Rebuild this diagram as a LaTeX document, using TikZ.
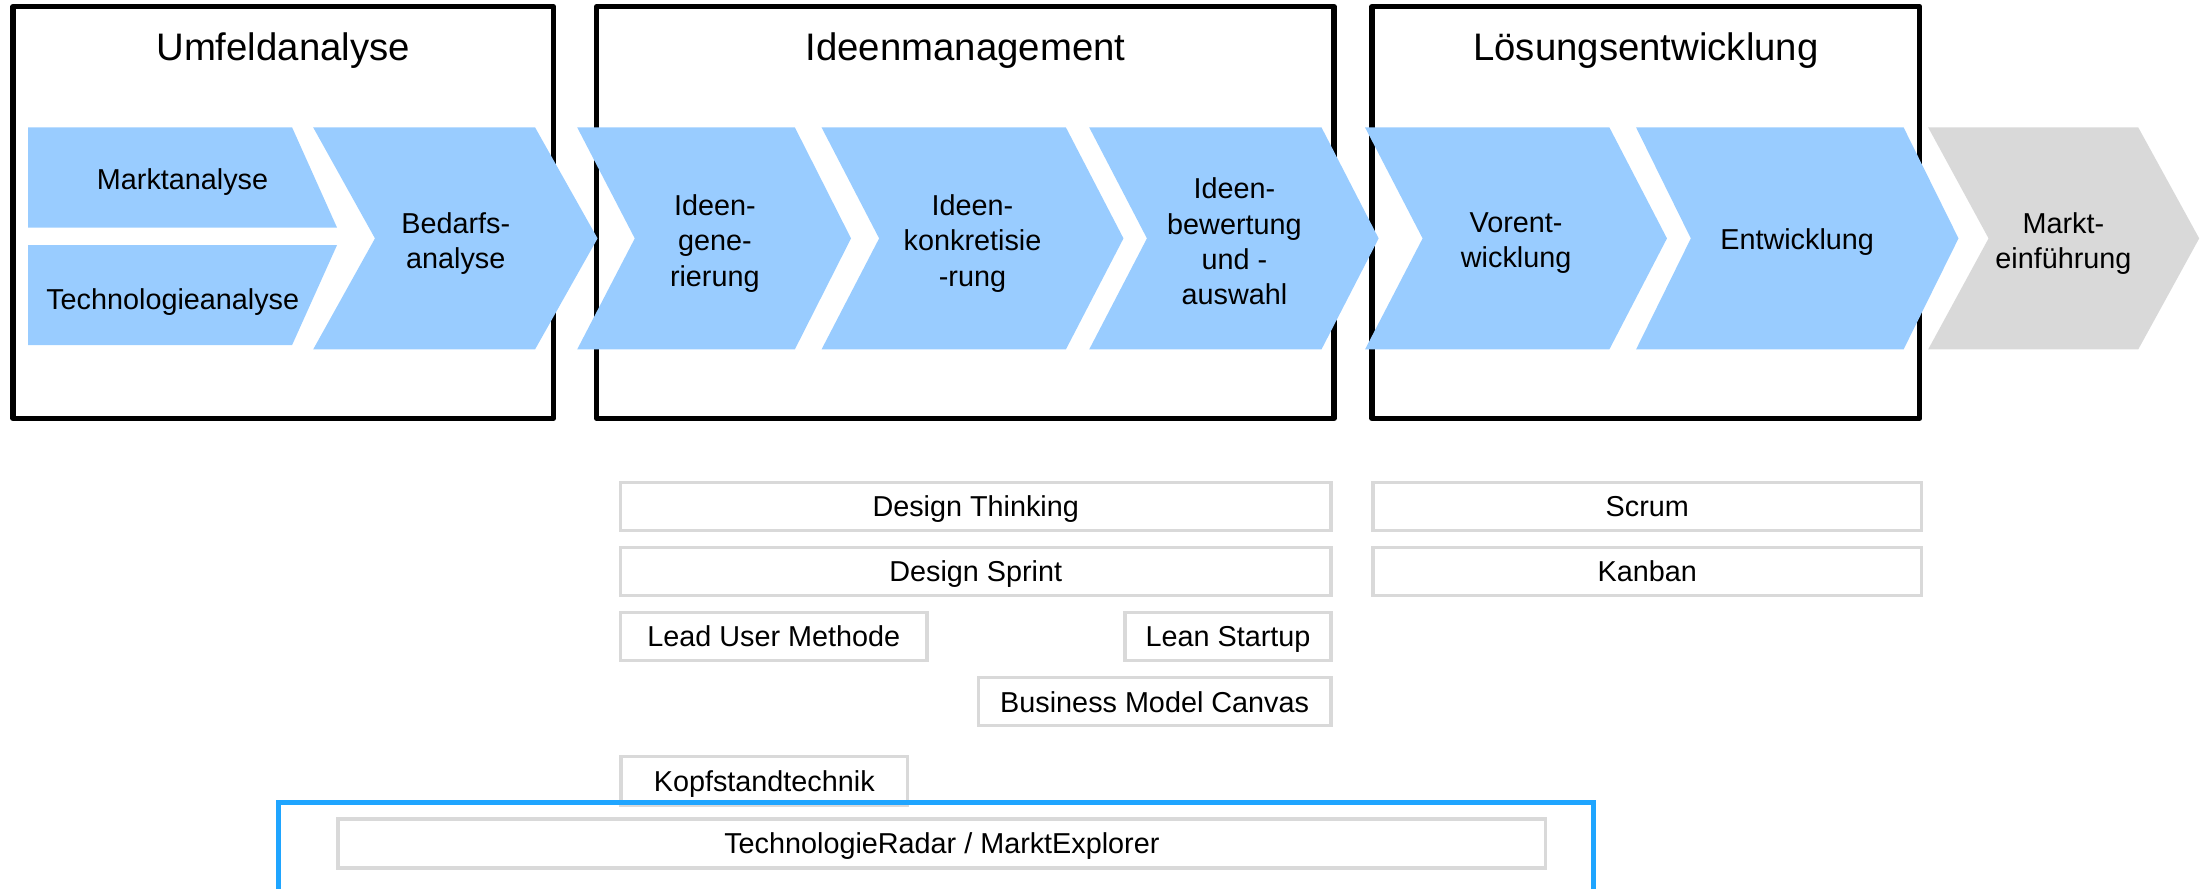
\documentclass[tikz,border=0pt]{standalone}
\usepackage{fontspec}
\setmainfont{Liberation Sans}
\definecolor{chevblue}{HTML}{99CCFF}
\definecolor{chevgray}{HTML}{D9D9D9}
\definecolor{toolgray}{HTML}{D9D9D9}
\definecolor{radarblue}{HTML}{1FA5FF}

% chevron: left x, notch x, upper right x, tip x, top y, bottom y
\newcommand{\chevronpath}[6]{(#1,#5) -- (#3,#5) -- (#4,{(#5+#6)/2}) -- (#3,#6) -- (#1,#6) -- (#2,{(#5+#6)/2}) -- cycle}

\begin{document}
\begin{tikzpicture}[x=1pt,y=-1pt,
  phase/.style={draw=black, line width=3.8pt, line join=round},
  stage/.style={fill=chevblue},
  launch/.style={fill=chevgray},
  steplabel/.style={align=center, font=\fontsize{20.5}{25}\selectfont, inner sep=0pt, anchor=north},
  heading/.style={font=\fontsize{27.3}{32}\selectfont, inner sep=0pt, anchor=base},
  tool/.style={draw=toolgray, line width=2.4pt, inner sep=0pt, anchor=north west,
    font=\fontsize{20.5}{25}\selectfont, text height=14.8pt, text depth=0pt},
  radarframe/.style={draw=radarblue, line width=3.6pt},
]
\useasboundingbox (0,0) rectangle (1568,633);
\clip (0,0) rectangle (1568,633);

% phase frames
\draw[phase] (9.2,4.7) rectangle (394,297.9);
\draw[phase] (424.9,4.7) rectangle (950,297.9);
\draw[phase] (977,4.7) rectangle (1367,297.9);

\node[heading] (tumfeld) at (201.6,43.4) {Umfeldanalyse};
\node[heading] (tideen) at (687.5,43.4) {Ideenmanagement};
\node[heading] (tloesung) at (1172,43.4) {Lösungsentwicklung};

% analysis blocks
\fill[stage] (20,90.7) -- (208,90.7) -- (240,162.1) -- (20,162.1) -- cycle;
\fill[stage] (20,174.5) -- (240,174.5) -- (208,245.7) -- (20,245.7) -- cycle;
\node[steplabel] (markt) at (130,120.1) {Marktanalyse};
\node[steplabel] (techno) at (123,205.1) {Technologieanalyse};

% process chevrons
\fill[stage] \chevronpath{223}{267}{381}{425.5}{90.7}{248.8};
\fill[stage] \chevronpath{411}{452}{566}{606}{90.7}{248.8};
\fill[stage] \chevronpath{585}{626}{759}{800}{90.7}{248.8};
\fill[stage] \chevronpath{775.6}{816.7}{941}{981.7}{90.7}{248.8};
\fill[stage] \chevronpath{972}{1013}{1146}{1187}{90.7}{248.8};
\fill[stage] \chevronpath{1165}{1204}{1355.5}{1394.6}{90.7}{248.8};
\fill[launch] \chevronpath{1373}{1416}{1522.6}{1566}{90.7}{248.8};

\node[steplabel] (bedarf) at (324.5,151.4) {Bedarfs-\\analyse};
\node[steplabel] (ideengen) at (509,138.6) {Ideen-\\gene-\\rierung};
\node[steplabel] (ideenkon) at (692.5,138.6) {Ideen-\\konkretisie\\-rung};
\node[steplabel] (ideenbew) at (879,126.6) {Ideen-\\bewertung\\und -\\auswahl};
\node[steplabel] (vorent) at (1079.6,151.1) {Vorent-\\wicklung};
\node[steplabel] (entw) at (1279.7,162.6) {Entwicklung};
\node[steplabel] (einf) at (1469.3,151.1) {Markt-\\einführung};

% methods
\node[tool, minimum width=506pt, minimum height=34.4pt] (dthink) at (440.6,342.3) {Design Thinking};
\node[tool, minimum width=506pt, minimum height=34.4pt] (dsprint) at (440.6,388.6) {Design Sprint};
\node[tool, minimum width=218.4pt, minimum height=34.4pt] (leaduser) at (440.6,434.9) {Lead User Methode};
\node[tool, minimum width=146.6pt, minimum height=34.4pt] (leanstart) at (800,434.9) {Lean Startup};
\node[tool, minimum width=251.2pt, minimum height=34.4pt] (bmc) at (695.4,481.2) {Business Model Canvas};
\node[tool, minimum width=390.4pt, minimum height=34.4pt] (scrum) at (976.6,342.3) {Scrum};
\node[tool, minimum width=390.4pt, minimum height=34.4pt] (kanban) at (976.6,388.6) {Kanban};
\node[tool, minimum width=204pt, minimum height=34.4pt] (kopf) at (441,537.6) {Kopfstandtechnik};

\draw[radarframe] (198,571.4) rectangle (1134.5,700);
\node[tool, minimum width=860pt, minimum height=35pt] (radar) at (239.5,582) {TechnologieRadar / MarktExplorer};
\end{tikzpicture}
\end{document}
